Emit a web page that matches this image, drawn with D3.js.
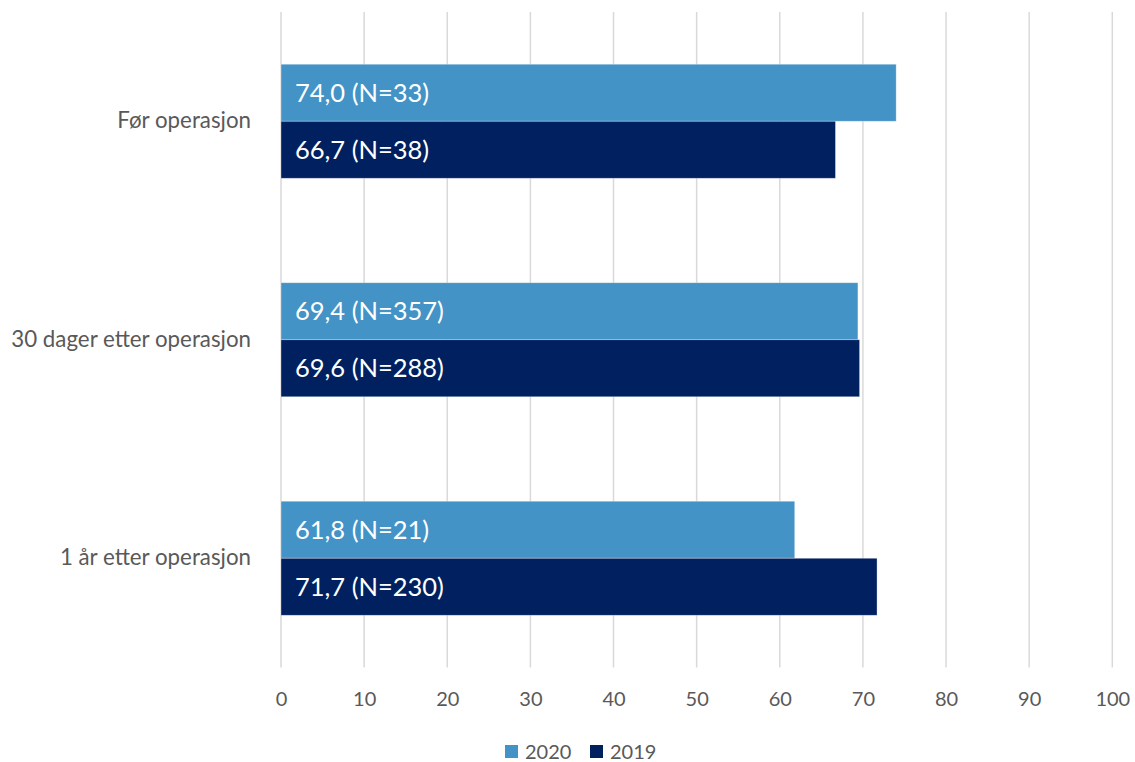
<!DOCTYPE html>
<html>
<head>
<meta charset="utf-8">
<script src="https://cdn.jsdelivr.net/npm/d3@7"></script>
<style>
  html, body { margin: 0; padding: 0; background: #fff; }
  svg { display: block; font-family: Lato, "Open Sans", sans-serif; }
</style>
</head>
<body>
<svg id="chart" width="1135" height="762"></svg>
<script>
// Categories (top to bottom) and the two survey years
const categories = ["Før operasjon", "30 dager etter operasjon", "1 år etter operasjon"];
const seriesNames = ["2020", "2019"];
const values2020 = [74.0, 69.4, 61.8];
const values2019 = [66.7, 69.6, 71.7];
const counts2020 = [33, 357, 21];
const counts2019 = [38, 288, 230];
const xTicks = [0, 10, 20, 30, 40, 50, 60, 70, 80, 90, 100];

const colors = { "2020": "#4393C6", "2019": "#002060" };

const rows = categories.map((c, i) => ({
  category: c,
  bars: [
    { series: "2020", value: values2020[i], n: counts2020[i] },
    { series: "2019", value: values2019[i], n: counts2019[i] }
  ]
}));

const svg = d3.select("#chart");
const plot = { left: 281, right: 1112.3, top: 12, bottom: 667.5 };

const x = d3.scaleLinear().domain([0, 100]).range([plot.left, plot.right]);
const y = d3.scaleBand().domain(categories).range([plot.top, plot.bottom])
  .paddingInner(0.478).paddingOuter(0.239);
const ySub = d3.scaleBand().domain(seriesNames).range([0, y.bandwidth()]);

const fmt = v => v.toFixed(1).replace(".", ",");

// Vertical gridlines
svg.append("g").selectAll("line").data(xTicks).join("line")
  .attr("x1", d => x(d)).attr("x2", d => x(d))
  .attr("y1", plot.top).attr("y2", plot.bottom)
  .attr("stroke", "#d9d9d9").attr("stroke-width", 1.5);

// Bottom axis tick labels
const xAxis = d3.axisBottom(x).tickValues(xTicks).tickSize(0).tickPadding(0);
const gx = svg.append("g").attr("transform", `translate(0,${plot.bottom})`).call(xAxis);
gx.select(".domain").remove();
gx.selectAll("text").attr("dy", null).attr("y", 38)
  .attr("fill", "#595959").attr("font-size", 20).attr("font-family", "Lato, 'Open Sans', sans-serif");

// Category axis labels
const yAxis = d3.axisLeft(y).tickSize(0).tickPadding(30);
const gy = svg.append("g").attr("transform", `translate(${plot.left},0)`).call(yAxis);
gy.select(".domain").remove();
gy.selectAll("text").attr("fill", "#595959").attr("font-size", 22.3)
  .attr("font-family", "Lato, 'Open Sans', sans-serif");

// Bars with inside value labels
const groups = svg.append("g").selectAll("g").data(rows).join("g")
  .attr("transform", d => `translate(0,${y(d.category)})`);

groups.selectAll("rect").data(d => d.bars).join("rect")
  .attr("x", x(0))
  .attr("y", d => ySub(d.series))
  .attr("width", d => x(d.value) - x(0))
  .attr("height", ySub.bandwidth())
  .attr("fill", d => colors[d.series])
  .attr("stroke", "rgba(255,255,255,0.45)").attr("stroke-width", 0.75);

groups.selectAll("text.val").data(d => d.bars).join("text")
  .attr("class", "val")
  .attr("x", x(0) + 14)
  .attr("y", d => ySub(d.series) + ySub.bandwidth() / 2)
  .attr("dy", "0.35em")
  .attr("fill", "#fff").attr("font-size", 25.5)
  .text(d => `${fmt(d.value)} (N=${d.n})`);

// Legend
const legend = svg.append("g").attr("transform", "translate(505,745)");
const legendX = [0, 85];
seriesNames.forEach((s, i) => {
  const g = legend.append("g").attr("transform", `translate(${legendX[i]},0)`);
  g.append("rect").attr("width", 13).attr("height", 13).attr("fill", colors[s]);
  g.append("text").attr("x", 20).attr("y", 6.5).attr("dy", "0.35em")
    .attr("fill", "#595959").attr("font-size", 20).text(s);
});
</script>
</body>
</html>
